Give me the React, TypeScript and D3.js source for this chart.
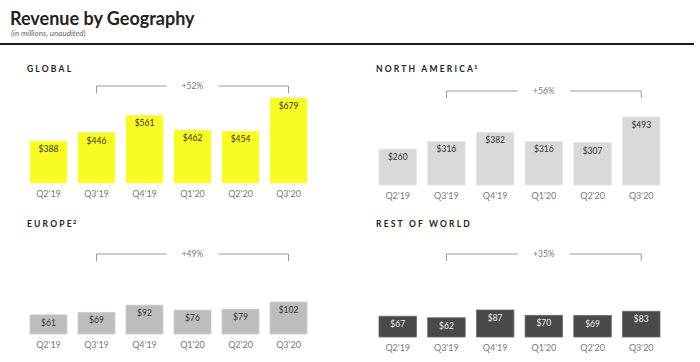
import React from 'react';
import { scaleBand, scaleLinear } from 'd3';

const quarters = ["Q2'19", "Q3'19", "Q4'19", "Q1'20", "Q2'20", "Q3'20"];

const globalRevenue = [388, 446, 561, 462, 454, 679];
const northAmericaRevenue = [260, 316, 382, 316, 307, 493];
const europeRevenue = [61, 69, 92, 76, 79, 102];
const restOfWorldRevenue = [67, 62, 87, 70, 69, 83];

const panelTitles = ['GLOBAL', 'NORTH AMERICA', 'EUROPE', 'REST OF WORLD'];
const footnoteMarks = ['', '1', '2', ''];
const growthLabels = ['+52%', '+56%', '+49%', '+35%'];
// global chart axis in the source does not start at zero
const axisFloors = [105, 0, 0, 0];

const FONT = 'Lato, "Open Sans", sans-serif';

interface PanelProps {
  title: string;
  note: string;
  growth: string;
  values: number[];
  floor: number;
  x0: number;
  x1: number;
  titleY: number;
  bracketY: number;
  baseY: number;
  topY: number;
  fill: string;
  stroke: string;
  labelColor: string;
}

const Panel: React.FC<PanelProps> = ({
  title, note, growth, values, floor, x0, x1, titleY, bracketY, baseY, topY, fill, stroke, labelColor,
}) => {
  const xScale = scaleBand<string>().domain(quarters).range([x0, x1]).paddingInner(0.23).paddingOuter(0);
  const yScale = scaleLinear().domain([floor, Math.max(...values)]).range([baseY, topY]);
  const bw = xScale.bandwidth();

  // bracket spans from second bar centre to last bar centre
  const bx1 = (xScale(quarters[1]) as number) + bw / 2;
  const bx2 = (xScale(quarters[quarters.length - 1]) as number) + bw / 2;
  const mid = (bx1 + bx2) / 2;
  const gap = 26;

  return (
    <g>
      <text x={x0 - 3} y={titleY} fontFamily={FONT} fontWeight={700} fontSize={8.5}
        letterSpacing={2.2} fill="#222">
        {title}
        {note && <tspan fontSize={6} dy={-3} dx={-1}>{note}</tspan>}
      </text>
      <path d={`M${bx1},${bracketY + 7}V${bracketY}H${mid - gap}M${mid + gap},${bracketY}H${bx2}V${bracketY + 7}`}
        fill="none" stroke="#9a9a9a" strokeWidth={1} />
      <text x={mid} y={bracketY + 3} textAnchor="middle" fontFamily={FONT} fontSize={8.5} fill="#777">{growth}</text>
      {values.map((v, i) => {
        const x = xScale(quarters[i]) as number;
        const y = yScale(v);
        return (
          <g key={quarters[i]}>
            <rect x={x} y={y} width={bw} height={baseY - y} fill={fill} stroke={stroke} strokeWidth={0.8} />
            <text x={x + bw / 2} y={y + 11} textAnchor="middle" fontFamily={FONT} fontSize={8.5}
              fill={labelColor}>{`$${v}`}</text>
            <text x={x + bw / 2} y={baseY + 14} textAnchor="middle" fontFamily={FONT} fontSize={9}
              fill="#777">{quarters[i]}</text>
          </g>
        );
      })}
    </g>
  );
};

export default function App() {
  return (
    <svg width={700} height={362} style={{ position: 'absolute', left: 0, top: 0, background: '#fff' }}>
      <text x={10} y={25} fontFamily={FONT} fontWeight={700} fontSize={18} fill="#222">Revenue by Geography</text>
      <text x={11} y={36} fontFamily={FONT} fontStyle="italic" fontSize={8} fill="#666">(in millions, unaudited)</text>
      <line x1={0} x2={694} y1={44} y2={44} stroke="#1a1a1a" strokeWidth={2} />

      <Panel title={panelTitles[0]} note={footnoteMarks[0]} growth={growthLabels[0]} values={globalRevenue}
        floor={axisFloors[0]} x0={30} x1={307} titleY={72} bracketY={86} baseY={183} topY={98}
        fill="#f8fc22" stroke="#f4f86a" labelColor="#333" />
      <Panel title={panelTitles[1]} note={footnoteMarks[1]} growth={growthLabels[1]} values={northAmericaRevenue}
        floor={axisFloors[1]} x0={379} x1={660} titleY={72} bracketY={91} baseY={185} topY={117}
        fill="#d9d9d9" stroke="#e4e4e4" labelColor="#333" />
      <Panel title={panelTitles[2]} note={footnoteMarks[2]} growth={growthLabels[2]} values={europeRevenue}
        floor={axisFloors[2]} x0={30} x1={307} titleY={227} bracketY={254} baseY={334} topY={302}
        fill="#bdbdbd" stroke="#cacaca" labelColor="#333" />
      <Panel title={panelTitles[3]} note={footnoteMarks[3]} growth={growthLabels[3]} values={restOfWorldRevenue}
        floor={axisFloors[3]} x0={379} x1={660} titleY={227} bracketY={254} baseY={337} topY={310}
        fill="#4a4a4a" stroke="#6a6a6a" labelColor="#eee" />
    </svg>
  );
}
